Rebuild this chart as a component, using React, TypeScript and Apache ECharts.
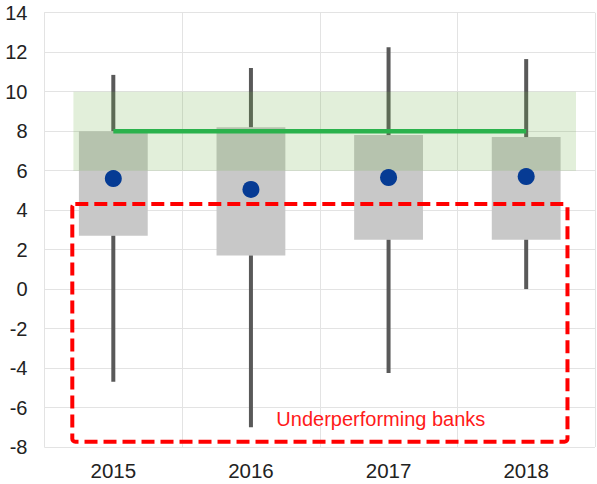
import React, { useEffect, useRef } from "react";
import * as echarts from "echarts";

const categories = ["2015", "2016", "2017", "2018"];
const whiskerLow = [-4.7, -7.0, -4.25, 0.0];
const boxLow = [2.7, 1.7, 2.5, 2.5];
const boxHigh = [8.0, 8.2, 7.8, 7.7];
const whiskerHigh = [10.85, 11.2, 12.25, 11.65];
const dots = [5.6, 5.05, 5.65, 5.7];
const targetLevel = [8, 8, 8, 8];
// band: [xStart, yLow, xEnd, yHigh] on a 0..4 value scale spanning the category axis
const targetBand = [0.21, 6, 3.862, 10];
const underperfZone = [0.202, -7.73, 3.8, 4.31];
const zoneLabel = "Underperforming banks";
const zoneLabelPos = [2.444, -6.58];

const FONT = "'Liberation Sans', Arial, sans-serif";

export default function App() {
  const ref = useRef<HTMLDivElement>(null);
  useEffect(() => {
    document.body.style.margin = "0";
    const chart = echarts.init(ref.current!, null, { renderer: "svg" });
    const option = {
      animation: false,
      grid: { left: 44.5, right: 2, top: 12.7, bottom: 37, containLabel: false },
      xAxis: [
        {
          type: "category",
          data: categories,
          boundaryGap: true,
          axisLine: { show: false },
          axisTick: { show: false },
          splitLine: { show: true, lineStyle: { color: "#e3e3e3", width: 1 } },
          axisLabel: { fontSize: 20.5, color: "#222222", fontFamily: FONT, margin: 13 },
        },
        { type: "value", min: 0, max: 4, show: false },
      ],
      yAxis: {
        type: "value",
        min: -8,
        max: 14,
        interval: 2,
        axisLine: { show: true, lineStyle: { color: "#e3e3e3" } },
        axisTick: { show: false },
        splitLine: { show: true, lineStyle: { color: "#e3e3e3", width: 1 } },
        axisLabel: { fontSize: 20, color: "#222222", fontFamily: FONT, margin: 17 },
      },
      series: [
        {
          type: "custom",
          z: 2,
          xAxisIndex: 0,
          data: categories.map((_, i) => [i, whiskerLow[i], boxLow[i], boxHigh[i], whiskerHigh[i]]),
          renderItem: (params: any, api: any) => {
            const i = api.value(0);
            const pWl = api.coord([i, api.value(1)]);
            const pBl = api.coord([i, api.value(2)]);
            const pBh = api.coord([i, api.value(3)]);
            const pWh = api.coord([i, api.value(4)]);
            const w = api.size([1, 0])[0] * 0.5;
            return {
              type: "group",
              children: [
                {
                  type: "rect",
                  shape: { x: pBh[0] - w / 2, y: pBh[1], width: w, height: pBl[1] - pBh[1] },
                  style: { fill: "#c8c8c8" },
                },
                {
                  type: "line",
                  shape: { x1: pWh[0], y1: pWh[1], x2: pBh[0], y2: pBh[1] },
                  style: { stroke: "#595959", lineWidth: 4 },
                },
                {
                  type: "line",
                  shape: { x1: pBl[0], y1: pBl[1], x2: pWl[0], y2: pWl[1] },
                  style: { stroke: "#595959", lineWidth: 4 },
                },
              ],
            };
          },
        },
        {
          type: "custom",
          z: 3,
          xAxisIndex: 1,
          data: [targetBand],
          renderItem: (params: any, api: any) => {
            const p0 = api.coord([api.value(0), api.value(3)]);
            const p1 = api.coord([api.value(2), api.value(1)]);
            return {
              type: "rect",
              shape: { x: p0[0], y: p0[1], width: p1[0] - p0[0], height: p1[1] - p0[1] },
              style: { fill: "rgba(112,173,71,0.2)" },
            };
          },
        },
        {
          type: "line",
          z: 4,
          xAxisIndex: 0,
          data: targetLevel,
          symbol: "none",
          lineStyle: { color: "#2bb24c", width: 4.5 },
        },
        {
          type: "scatter",
          z: 5,
          xAxisIndex: 0,
          data: dots,
          symbolSize: 17,
          itemStyle: { color: "#063b94", opacity: 1 },
        },
        {
          type: "custom",
          z: 6,
          xAxisIndex: 1,
          data: [underperfZone],
          renderItem: (params: any, api: any) => {
            const p0 = api.coord([api.value(0), api.value(3)]);
            const p1 = api.coord([api.value(2), api.value(1)]);
            return {
              type: "rect",
              shape: { x: p0[0], y: p0[1], width: p1[0] - p0[0], height: p1[1] - p0[1], r: 3 },
              style: { fill: "none", stroke: "#ff0000", lineWidth: 4, lineDash: [13, 6] },
            };
          },
        },
        {
          type: "custom",
          z: 7,
          xAxisIndex: 1,
          data: [zoneLabelPos],
          renderItem: (params: any, api: any) => {
            const p = api.coord([api.value(0), api.value(1)]);
            return {
              type: "text",
              x: p[0],
              y: p[1],
              style: {
                text: zoneLabel,
                fill: "#ff1a1a",
                fontSize: 20,
                fontFamily: FONT,
                align: "center",
                verticalAlign: "middle",
              },
            };
          },
        },
      ],
    };
    chart.setOption(option as any);
    return () => chart.dispose();
  }, []);
  return <div ref={ref} style={{ width: 597, height: 484 }} />;
}
